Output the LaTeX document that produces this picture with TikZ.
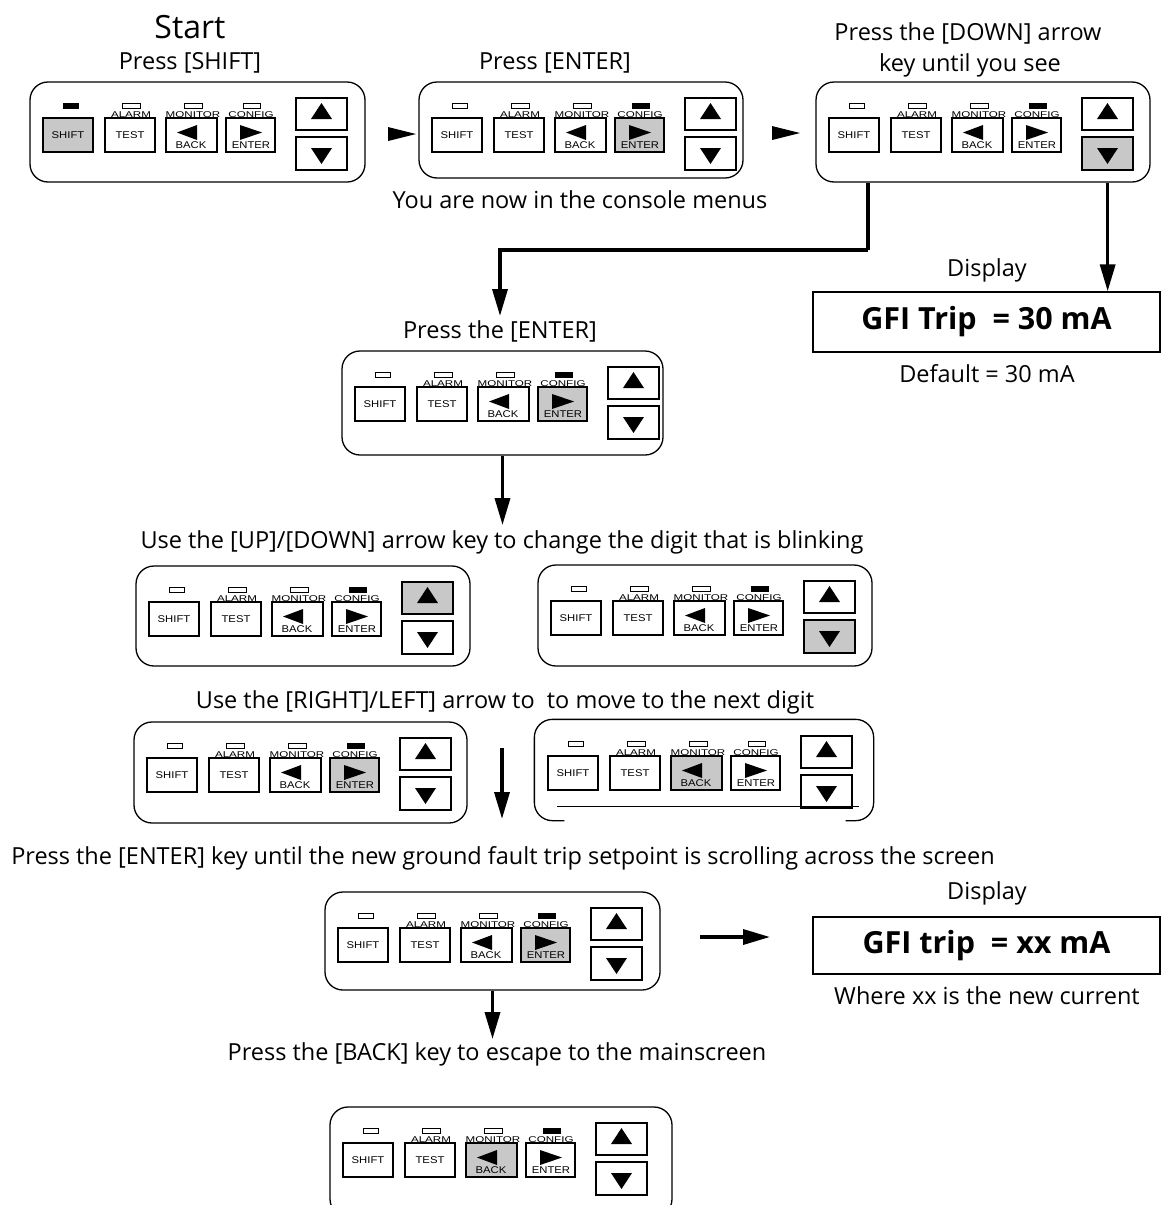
\documentclass[tikz,border=0pt]{standalone}
\usepackage{fontspec}
\setmainfont{Open Sans}
\newfontfamily\kpfont{Liberation Sans}
\usetikzlibrary{arrows.meta}
\definecolor{keygray}{RGB}{200,200,200}
\newcommand{\lb}[1]{\scalebox{1.38}[1]{#1}}
\newcommand{\kt}[1]{\scalebox{1.15}[1]{#1}}
\tikzset{
  kp/.style={draw, line width=1.3pt, rounded corners=18pt, inner sep=0pt},
  key/.style={draw, line width=1.2pt, fill=white},
  k/shift/.style={key}, k/test/.style={key}, k/back/.style={key},
  k/enter/.style={key}, k/up/.style={key}, k/down/.style={key},
  led/.style={draw, line width=0.9pt, fill=white},
  l/shift/.style={led}, l/alarm/.style={led}, l/monitor/.style={led}, l/config/.style={led},
  lbl/.style={font=\kpfont\fontsize{8.4}{9}\selectfont, inner sep=0pt, anchor=base},
  ktxt/.style={font=\kpfont\fontsize{9.8}{11}\selectfont, inner sep=0pt},
  txt/.style={font=\fontsize{23.5}{28}\selectfont, inner sep=0pt},
  bigtxt/.style={font=\fontsize{32}{38}\selectfont, inner sep=0pt},
  gfi/.style={draw, line width=1.3pt, minimum width=347pt, font=\bfseries\fontsize{30.5}{36}\selectfont},
  flow/.style={line width=3.5pt, -{Triangle[length=27pt,width=15pt]}},
  flowline/.style={line width=3.5pt},
}
\newcommand{\kpad}[6]{%
  \node[#6, kp, minimum width=#4pt, minimum height=#5pt] (#1) at (#2+#4/2, #3+#5/2) {};
  \begin{scope}[shift={(#2,#3)}, #6]
    \draw[l/shift] (33,21) rectangle (48,26);
    \draw[l/alarm] (92,21) rectangle (110,26);
    \draw[l/monitor] (154,21) rectangle (172,26);
    \draw[l/config] (213,21) rectangle (230,26);
    \draw[k/shift] (13,36) rectangle (63,70);
    \draw[k/test] (75,36) rectangle (125,70);
    \draw[k/back] (136,36) rectangle (187,70);
    \draw[k/enter] (196,36) rectangle (245,70);
    \draw[k/up] (266,16) rectangle (317,48);
    \draw[k/down] (266,55) rectangle (317,88);
    \node[lbl] (#1-alarm) at (101,35.3) {\lb{ALARM}};
    \node[lbl] (#1-monitor) at (163,35.3) {\lb{MONITOR}};
    \node[lbl] (#1-config) at (221,35.3) {\lb{CONFIG}};
    \node[ktxt] (#1-shift) at (38,53) {\kt{SHIFT}};
    \node[ktxt] (#1-test) at (100,53.5) {\kt{TEST}};
    \fill (147,50.5) -- (167,43) -- (167,58) -- cycle;
    \node[ktxt] (#1-back) at (161,63) {\kt{BACK}};
    \fill (232,50.5) -- (210,43) -- (210,58) -- cycle;
    \node[ktxt] (#1-enter) at (221,63) {\kt{ENTER}};
    \fill (291.5,21) -- (281,37) -- (302,37) -- cycle;
    \fill (291.5,82) -- (281,66) -- (302,66) -- cycle;
  \end{scope}
}
\begin{document}
\begin{tikzpicture}[x=1pt, y=-1pt]
\fill[white] (0,0) rectangle (1168,1205);
\useasboundingbox (0,0) rectangle (1168,1205);

% keypads
\kpad{kp1}{30}{82}{335}{100}{k/shift/.style={key,fill=keygray}, l/shift/.style={led,fill=black}}
\kpad{kp2}{419}{82}{324}{96}{k/enter/.style={key,fill=keygray}, l/config/.style={led,fill=black}}
\kpad{kp3}{816}{82}{334}{100}{k/down/.style={key,fill=keygray}, l/config/.style={led,fill=black}}
\kpad{kp4}{342}{351}{321}{104}{k/enter/.style={key,fill=keygray}, l/config/.style={led,fill=black}}
\kpad{kp5}{136}{566}{334}{100}{k/up/.style={key,fill=keygray}, l/config/.style={led,fill=black}}
\kpad{kp6}{538}{565}{334}{101}{k/down/.style={key,fill=keygray}, l/config/.style={led,fill=black}}
\kpad{kp7}{134}{722}{333}{101}{k/enter/.style={key,fill=keygray}, l/config/.style={led,fill=black}}
\kpad{kp8}{535}{720}{338}{100}{k/back/.style={key,fill=keygray}, kp/.append style={draw=none}}
\kpad{kp9}{325}{892}{335}{98}{k/enter/.style={key,fill=keygray}, l/config/.style={led,fill=black}}
\kpad{kp10}{330}{1107}{342}{110}{k/back/.style={key,fill=keygray}, l/config/.style={led,fill=black}}
% special outline of kp8
\draw[line width=1.3pt, rounded corners=18pt] ([xshift=30pt]kp8.south west) -- (kp8.south west) -- (kp8.north west) -- (kp8.north east) -- (kp8.south east) -- ([xshift=-28pt]kp8.south east);
\draw[line width=1.3pt] ([xshift=23pt,yshift=14pt]kp8.south west) -- ([xshift=-15pt,yshift=14pt]kp8.south east);

% texts
\node[bigtxt] (start) at (190,27) {Start};
\node[txt] (t1) at (190,63) {Press [SHIFT]};
\node[txt] (t2) at (555,63) {Press [ENTER]};
\node[txt] (t3a) at (968,33) {Press the [DOWN] arrow};
\node[txt] (t3b) at (970,65) {key until you see};
\node[txt] (menus) at (580,200) {You are now in the console menus};
\node[txt] (d1) at (987,270) {Display};
\node[gfi, minimum height=60pt] (gfi1) at (986.5,322) {GFI Trip~ = 30 mA};
\node[txt] (def1) at (987,374) {Default = 30 mA};
\node[txt] (t4) at (500,331) {Press the [ENTER]};
\node[txt] (t5) at (502,542) {Use the [UP]/[DOWN] arrow key to change the digit that is blinking};
\node[txt] (t6) at (505,702) {Use the [RIGHT]/LEFT] arrow to~ to move to the next digit};
\node[txt] (t7) at (503,858) {Press the [ENTER] key until the new ground fault trip setpoint is scrolling across the screen};
\node[txt] (d2) at (987,893) {Display};
\node[gfi, minimum height=57pt] (gfi2) at (986.5,945.5) {GFI trip~ = xx mA};
\node[txt] (w2) at (987,996) {Where xx is the new current};
\node[txt] (t9) at (497,1054) {Press the [BACK] key to escape to the mainscreen};

% arrowheads between top keypads
\fill (388,127) -- (416,134) -- (388,141) -- cycle;
\fill (772,126) -- (800,133) -- (772,140) -- cycle;

% connectors
\coordinate (c1) at (868,250);
\draw[flowline] (kp3.south -| c1) -- (c1);
\draw[flow, shorten >=4pt] (c1) -| (t4.north);
\draw[flow] ([xshift=-43pt]kp3.south east) -- ([xshift=-43pt]kp3.south east |- gfi1.north);
\draw[flow, shorten >=5pt] (kp4.south) -- (kp4.south |- t5.north);
\coordinate (a4s) at (502,748);
\coordinate (a4e) at (502,819);
\draw[flow] (a4s) -- (a4e);
\draw[flow, shorten >=3pt] (kp9.south) -- (kp9.south |- t9.north);
\coordinate (a5s) at (700,937);
\coordinate (a5e) at (770,937);
\draw[flow] (a5s) -- (a5e);
\end{tikzpicture}
\end{document}
